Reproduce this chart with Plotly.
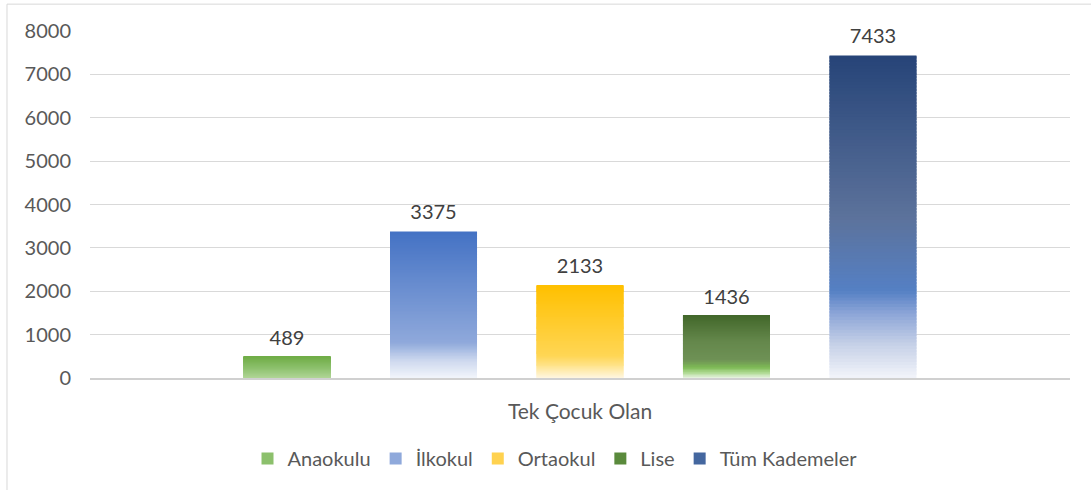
import plotly.graph_objects as go

# ---------------- data ----------------
category = ["Tek Çocuk Olan"]
series_names = ["Anaokulu", "İlkokul", "Ortaokul", "Lise", "Tüm Kademeler"]
values = [489, 3375, 2133, 1436, 7433]
y_tick_values = [0, 1000, 2000, 3000, 4000, 5000, 6000, 7000, 8000]

# ---------------- styles ----------------
# gradient stops: (fraction from bottom, rgb)
gradients = {
    "Anaokulu": [(0.0, (178, 214, 152)), (0.5, (140, 192, 108)), (1.0, (112, 173, 71))],
    "İlkokul": [(0.0, (242, 245, 251)), (0.12, (205, 216, 238)), (0.24, (143, 169, 219)),
                (1.0, (68, 114, 196))],
    "Ortaokul": [(0.0, (255, 248, 232)), (0.12, (255, 230, 150)), (0.24, (255, 214, 85)),
                 (1.0, (255, 192, 0))],
    "Lise": [(0.0, (238, 246, 234)), (0.1, (170, 215, 140)), (0.18, (125, 185, 85)),
             (0.3, (110, 145, 85)), (0.6, (100, 135, 75)), (1.0, (67, 104, 43))],
    "Tüm Kademeler": [(0.0, (242, 244, 250)), (0.1, (200, 210, 232)), (0.2, (140, 165, 215)),
                      (0.27, (85, 128, 196)), (0.5, (92, 114, 155)), (1.0, (38, 68, 120))],
}
legend_colors = {
    "Anaokulu": "#8CC06C",
    "İlkokul": "#8FA9DB",
    "Ortaokul": "#FFD24F",
    "Lise": "#5A8A3C",
    "Tüm Kademeler": "#44679F",
}


def interp(stops, f):
    for (f0, c0), (f1, c1) in zip(stops[:-1], stops[1:]):
        if f0 <= f <= f1:
            t = (f - f0) / (f1 - f0) if f1 > f0 else 0
            c = [round(a + (b - a) * t) for a, b in zip(c0, c1)]
            return f"rgb({c[0]},{c[1]},{c[2]})"
    c = stops[-1][1]
    return f"rgb({c[0]},{c[1]},{c[2]})"


FONT = "Lato, 'Open Sans', sans-serif"
N = 100
LABEL_PAD = 120  # transparent spacer (data units) lifting the value labels

fig = go.Figure()
for s, (name, v) in enumerate(zip(series_names, values)):
    stops = gradients[name]
    seg = v / N
    for k in range(N):
        f = (k + 0.5) / N
        # slight overlap with the next segment hides anti-aliasing seams
        h = min(seg * 1.8, v - seg * k)
        fig.add_trace(go.Bar(
            x=category, y=[h], base=[seg * k], offsetgroup=str(s),
            marker=dict(color=interp(stops, f), line=dict(width=0)),
            legendgroup=name, showlegend=False, hoverinfo="skip",
        ))
    # value label
    fig.add_trace(go.Bar(
        x=category, y=[LABEL_PAD], base=[v], offsetgroup=str(s),
        marker=dict(color="rgba(0,0,0,0)", line=dict(width=0)),
        text=[str(v)], textposition="outside", cliponaxis=False,
        textfont=dict(family=FONT, size=20, color="#404040"),
        legendgroup=name, showlegend=False, hoverinfo="skip",
    ))
    # legend entry
    fig.add_trace(go.Bar(
        x=category, y=[0], base=[0], offsetgroup=str(s), name=name,
        marker=dict(color=legend_colors[name], line=dict(width=0)),
        legendgroup=name, showlegend=True, hoverinfo="skip",
    ))

fig.update_layout(
    width=1091, height=490,
    margin=dict(l=90, r=21, t=31, b=110),
    paper_bgcolor="white", plot_bgcolor="white",
    barmode="group", bargap=0.2526, bargroupgap=0.406,
    font=dict(family=FONT, size=20, color="#595959"),
    showlegend=True,
    legend=dict(orientation="h", x=0.4745, xanchor="center", y=-0.232, yanchor="middle",
                font=dict(family=FONT, size=20, color="#595959"), traceorder="normal",
                itemwidth=30),
    xaxis=dict(showgrid=False, showline=True, linecolor="#D0D0D0", linewidth=1.5,
               ticks="", ticklabelstandoff=14, automargin=False,
               tickfont=dict(family=FONT, size=21, color="#595959")),
    yaxis=dict(range=[0, 8000], tickvals=y_tick_values, showgrid=True, gridcolor="#D9D9D9",
               gridwidth=1, zeroline=False, showline=False, ticks="", ticklabelstandoff=18,
               automargin=False,
               tickfont=dict(family=FONT, size=20, color="#595959")),
    shapes=[
        dict(type="line", xref="paper", yref="paper", x0=-0.0847, x1=-0.0847, y0=-0.33, y1=1.0774,
             line=dict(color="#D9D9D9", width=1)),
        dict(type="line", xref="paper", yref="paper", x0=-0.0847, x1=1.05, y0=1.0774, y1=1.0774,
             line=dict(color="#D9D9D9", width=1)),
    ],
)

fig.write_html("out.html", config={"displayModeBar": False},
               post_script="document.body.style.margin='0';")
